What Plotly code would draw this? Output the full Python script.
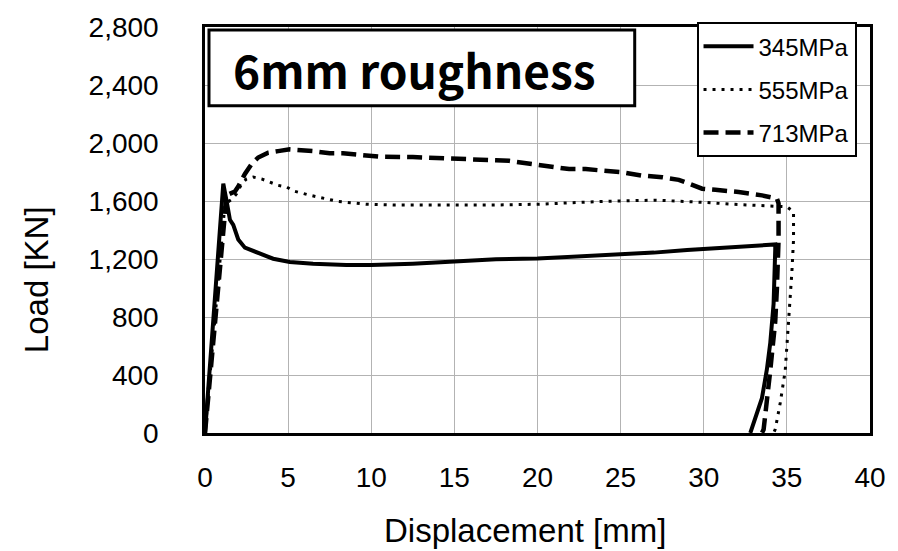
import plotly.graph_objects as go

# ---- data ----
names = ["345MPa", "555MPa", "713MPa"]

x_345 = [0, 1.1, 1.3, 1.5, 1.7, 2.0, 2.4, 3.1, 4.1, 5.1, 6.5, 8.5, 10, 12.5, 15, 17.5, 20, 23, 25, 27, 29, 30, 32, 34.3,
         34.3, 34.2, 34.0, 33.8, 33.5, 32.9, 32.8]
y_345 = [0, 1720, 1600, 1470, 1435, 1335, 1278, 1245, 1202, 1180, 1168, 1158, 1158, 1168, 1180, 1198, 1203, 1220, 1228,
         1244, 1262, 1270, 1285, 1300, 1265, 890, 620, 440, 240, 50, 0]

x_555 = [0, 1.2, 1.6, 1.9, 2.2, 2.5, 2.9, 3.4, 3.9, 4.4, 4.9, 5.3, 6.3, 7.4, 8.0, 9.7, 11.3, 13.5, 15.7, 17.3, 20.1,
         22.1, 24.1, 27.1, 29.1, 30.1, 31.7, 34.1, 35.0, 35.4, 35.4, 35.3, 35.1, 34.9, 34.6, 34.3, 34.2]
y_555 = [0, 1580, 1610, 1650, 1718, 1752, 1765, 1752, 1730, 1708, 1697, 1670, 1640, 1613, 1597, 1578, 1572, 1572, 1572,
         1572, 1578, 1587, 1598, 1606, 1598, 1590, 1578, 1567, 1560, 1526, 1333, 1108, 770, 430, 207, 25, 0]

x_713 = [0, 1.3, 1.8, 2.0, 2.4, 2.8, 3.2, 3.8, 4.4, 5.1, 6.5, 7.5, 8.3, 9.4, 10.5, 12.5, 13.9, 15.3, 16.5, 17.5,
         18.3, 19.7, 20.7, 21.9, 22.9, 24.1, 25.1, 26.3, 27.5, 28.5, 29.5, 29.9, 30.7, 32.1, 33.5, 34.2, 34.4, 34.5,
         34.5, 34.4, 34.3, 34.0, 33.8, 33.6, 33.5]
y_713 = [0, 1640, 1665, 1700, 1787, 1855, 1900, 1933, 1944, 1956, 1944, 1929, 1929, 1918, 1906, 1903, 1899, 1895,
         1888, 1881, 1877, 1855, 1838, 1820, 1820, 1809, 1798, 1775, 1764, 1746, 1707, 1685, 1677, 1662, 1639, 1624,
         1617, 1583, 1334, 995, 770, 430, 204, 24, 0]

x_ticks = [0, 5, 10, 15, 20, 25, 30, 35, 40]
y_ticks = [0, 400, 800, 1200, 1600, 2000, 2400, 2800]

title_text = "6mm roughness"
x_title = "Displacement [mm]"
y_title = "Load [KN]"

FONT = "Arial, Liberation Sans, sans-serif"

fig = go.Figure()
fig.add_trace(go.Scatter(x=x_345, y=y_345, mode="lines", name=names[0], legendgroup="a",
                         line=dict(color="black", width=4)))
fig.add_trace(go.Scatter(x=x_555, y=y_555, mode="lines", name=names[1], legendgroup="b",
                         line=dict(color="black", width=3, dash="3px,6px")))
fig.add_trace(go.Scatter(x=x_713, y=y_713, mode="lines", name=names[2], legendgroup="c",
                         line=dict(color="black", width=4.5, dash="15px,7px")))

L, R, T, B = 205, 26, 20, 118
W, H = 898, 551
pw, ph = W - L - R, H - T - B


def px(xp):
    return (xp - L) / pw


def py(yp):
    return (H - B - yp) / ph


fig.update_layout(
    width=W, height=H,
    margin=dict(l=L, r=R, t=T, b=B),
    paper_bgcolor="white", plot_bgcolor="white",
    font=dict(family=FONT, color="black"),
    legend=dict(x=px(698), y=py(15), xanchor="left", yanchor="top",
                bgcolor="white", bordercolor="black", borderwidth=2,
                font=dict(family=FONT, size=24, color="black"),
                tracegroupgap=9, itemwidth=50),
    showlegend=True,
)

fig.update_xaxes(range=[0, 40], tickvals=x_ticks, showgrid=True, gridcolor="#b3b3b3", gridwidth=1,
                 showline=True, linecolor="black", linewidth=2.5, mirror=True, zeroline=False,
                 ticks="", tickfont=dict(family=FONT, size=28), ticklabelstandoff=18)
fig.update_yaxes(range=[0, 2800], tickvals=y_ticks, tickformat=",d", showgrid=True, gridcolor="#b3b3b3",
                 gridwidth=1, showline=True, linecolor="black", linewidth=2.5, mirror=True, zeroline=False,
                 ticks="", tickfont=dict(family=FONT, size=28), ticklabelstandoff=38)

# title box
fig.add_shape(type="rect", xref="paper", yref="paper", x0=px(209), x1=px(636), y0=py(100), y1=py(23),
              line=dict(color="black", width=3), fillcolor="white", layer="above")
fig.add_annotation(text="<b>" + title_text + "</b>", xref="paper", yref="paper", x=px(415), y=py(63),
                   showarrow=False, xanchor="center", yanchor="middle",
                   font=dict(family="Noto Sans CJK KR, Noto Sans, sans-serif", size=46, color="black"))

# axis titles
fig.add_annotation(text=x_title, xref="paper", yref="paper", x=px(526), y=py(532), showarrow=False,
                   xanchor="center", yanchor="middle", font=dict(family=FONT, size=33, color="black"))
fig.add_annotation(text=y_title, xref="paper", yref="paper", x=px(36), y=py(277), showarrow=False,
                   xanchor="center", yanchor="middle", textangle=-90,
                   font=dict(family=FONT, size=33, color="black"))

fig.write_html("out.html")
